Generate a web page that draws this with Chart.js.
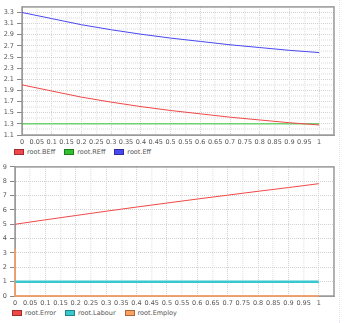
<!DOCTYPE html>
<html>
<head>
<meta charset="utf-8">
<script src="https://cdn.jsdelivr.net/npm/chart.js@4/dist/chart.umd.min.js"></script>
<style>
  body { margin:0; background:#fff; width:344px; height:323px; overflow:hidden; position:relative; font-family:'DejaVu Sans',sans-serif; }
  canvas { position:absolute; left:0; }
  .legend { position:absolute; display:flex; align-items:center; font-size:6.5px; color:#555; white-space:nowrap; }
  .legend .item { display:flex; align-items:center; margin-right:9px; }
  .legend .box { width:8px; height:4px; margin-right:3px; border:1px solid rgba(0,0,0,0.35); }
  .edge { position:absolute; left:339px; top:0; width:0; height:323px; border-left:1px dotted #dde3ee; }
</style>
</head>
<body>
<canvas id="top" width="344" height="145" style="top:0"></canvas>
<div class="legend" id="legTop" style="left:14px;top:148px"></div>
<canvas id="bottom" width="344" height="146" style="top:160px"></canvas>
<div class="legend" id="legBottom" style="left:12px;top:309px"></div>
<div class="edge"></div>
<script>
// time axis + series
const tValues = [0, 0.1, 0.2, 0.3, 0.4, 0.5, 0.6, 0.7, 0.8, 0.9, 1];
const bEff    = [2.00, 1.89, 1.78, 1.69, 1.61, 1.54, 1.48, 1.42, 1.37, 1.32, 1.28];
const rEff    = [1.3, 1.3, 1.3, 1.3, 1.3, 1.3, 1.3, 1.3, 1.3, 1.3, 1.3];
const eff     = [3.30, 3.19, 3.08, 2.99, 2.91, 2.84, 2.78, 2.72, 2.67, 2.62, 2.58];
const error   = [5.00, 5.31, 5.61, 5.91, 6.20, 6.48, 6.76, 7.03, 7.30, 7.56, 7.83];
const labour  = [1, 1, 1, 1, 1, 1, 1, 1, 1, 1, 1];
const employT = [0, 0, 1];
const employ  = [3.3, 0, 0];

const topNames    = ['root.BEff', 'root.REff', 'root.Eff'];
const bottomNames = ['root.Error', 'root.Labour', 'root.Employ'];
const topColors    = ['#f04848', '#30c030', '#4848f0'];
const bottomColors = ['#f04848', '#38c8d0', '#ffa060'];

Chart.defaults.font.family = "'DejaVu Sans', sans-serif";
Chart.defaults.font.size = 6.5;
Chart.defaults.color = '#555';

const pts = (xs, ys) => xs.map((x, i) => ({ x, y: ys[i] }));

const frame = {
  id: 'frame',
  beforeDatasetsDraw(c) {
    const a = c.chartArea, ctx = c.ctx;
    ctx.save();
    ctx.strokeStyle = '#9a9a9a';
    ctx.lineWidth = 1.5;
    ctx.strokeRect(a.left, a.top, a.right - a.left, a.bottom - a.top);
    ctx.restore();
  }
};

function xScale() {
  return {
    type: 'linear', min: 0, max: 1.05,
    ticks: { stepSize: 0.05, autoSkip: false, maxRotation: 0, padding: 3,
             callback: v => v > 1.001 ? '' : String(+v.toFixed(2)) },
    grid: { drawTicks: false,
            color: c => Math.round(c.tick.value * 20) % 2 === 0 ? '#d2d2d2' : '#e8e8e8',
            lineWidth: c => Math.round(c.tick.value * 20) % 2 === 0 ? 1 : 1.5 },
    border: { color: '#9a9a9a', dash: [1, 1] },
    afterFit: s => { s.height = 10; }
  };
}

function yScale(min, max, step, isLabel, fmt, width) {
  return {
    type: 'linear', min, max,
    ticks: { stepSize: step, autoSkip: false, padding: 3, callback: v => isLabel(v) ? fmt(v) : '' },
    grid: { tickLength: 5, tickColor: c => isLabel(c.tick.value) ? '#888' : 'rgba(0,0,0,0)',
            color: c => isLabel(c.tick.value) ? '#d2d2d2' : '#ececec',
            lineWidth: c => isLabel(c.tick.value) ? 1 : 2 },
    border: { color: '#9a9a9a', dash: [1, 1] },
    afterFit: s => { s.width = width; }
  };
}

function line(data, color, width) {
  return { data, borderColor: color, backgroundColor: color, borderWidth: width || 1,
           pointRadius: 0, tension: 0, fill: false, clip: false };
}

function makeChart(id, datasets, y, padTop) {
  return new Chart(document.getElementById(id), {
    type: 'line',
    data: { datasets },
    options: {
      responsive: false, animation: false, devicePixelRatio: 1,
      layout: { padding: { top: padTop, right: 10, left: 0, bottom: 0 } },
      plugins: { legend: { display: false }, tooltip: { enabled: false } },
      scales: { x: xScale(), y }
    },
    plugins: [frame]
  });
}

makeChart('top', [
  line(pts(tValues, bEff), topColors[0]),
  line(pts(tValues, rEff), topColors[1]),
  line(pts(tValues, eff), topColors[2])
], yScale(1.1, 3.4, 0.1, v => Math.round(v * 10) % 2 === 1, v => v.toFixed(1), 22), 5);

makeChart('bottom', [
  line(pts(tValues, error), bottomColors[0]),
  line(pts(tValues, labour), bottomColors[1], 2.5),
  line(pts(employT, employ), bottomColors[2], 1.5)
], yScale(0, 9, 1, v => true, v => String(v), 15), 5);

function legend(el, names, colors) {
  document.getElementById(el).innerHTML = names.map((n, i) =>
    `<div class="item"><span class="box" style="background:${colors[i]}"></span>${n}</div>`).join('');
}
legend('legTop', topNames, topColors);
legend('legBottom', bottomNames, bottomColors);
</script>
</body>
</html>
